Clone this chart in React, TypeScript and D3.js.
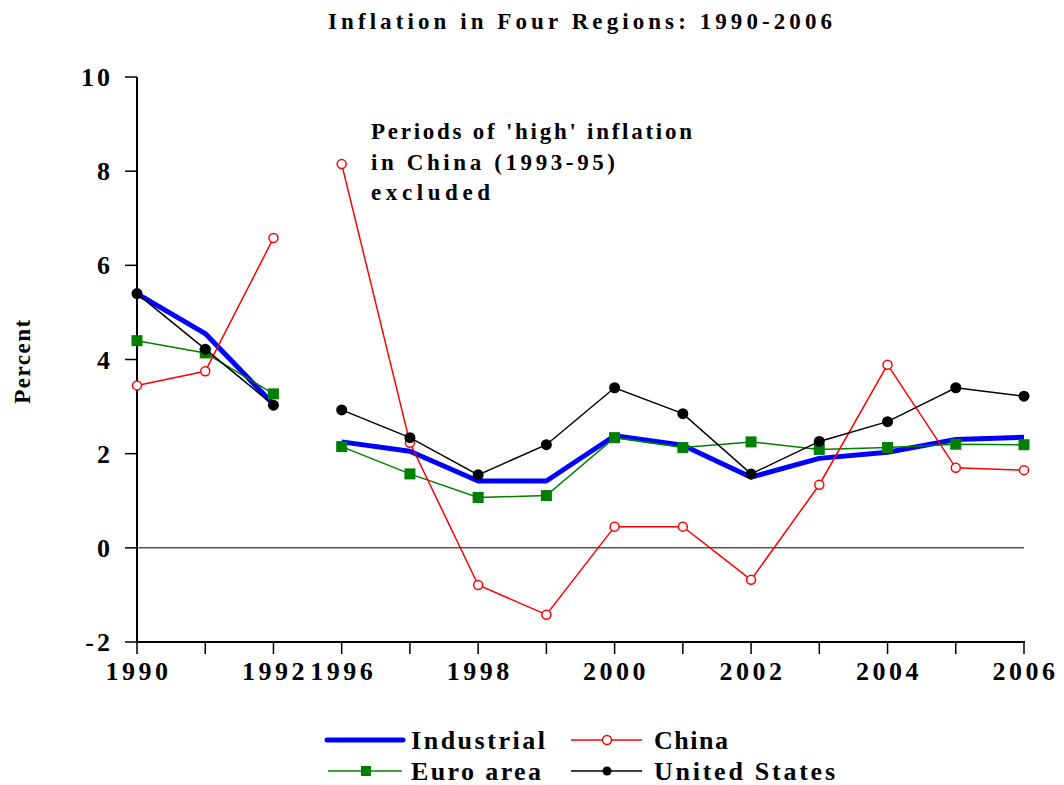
import React from "react";
import * as d3 from "d3";

// categories on the x axis (1993-95 left out)
const years = ["1990", "1991", "1992", "1996", "1997", "1998", "1999", "2000", "2001", "2002", "2003", "2004", "2005", "2006"];
const labeledYears = ["1990", "1992", "1996", "1998", "2000", "2002", "2004", "2006"];
const yTicks = [-2, 0, 2, 4, 6, 8, 10];

const industrial = [5.4, 4.55, 3.05, 2.25, 2.05, 1.42, 1.42, 2.38, 2.18, 1.5, 1.9, 2.03, 2.3, 2.35];
const china = [3.45, 3.75, 6.58, 8.15, 2.23, -0.79, -1.42, 0.45, 0.45, -0.68, 1.34, 3.89, 1.7, 1.65];
const euroArea = [4.4, 4.14, 3.27, 2.15, 1.57, 1.07, 1.11, 2.34, 2.13, 2.25, 2.09, 2.13, 2.2, 2.19];
const unitedStates = [5.4, 4.22, 3.03, 2.93, 2.34, 1.55, 2.19, 3.4, 2.85, 1.57, 2.26, 2.68, 3.4, 3.22];

const W = 1064;
const H = 785;
const font = "'Liberation Serif', 'Times New Roman', serif";

const App = () => {
  const x = d3.scalePoint<string>().domain(years).range([137, 1024]);
  const y = d3.scaleLinear().domain([-2, 10]).range([642, 77]);

  const line = d3
    .line<[string, number]>()
    .x((d) => x(d[0]) as number)
    .y((d) => y(d[1]));

  // lines break between 1992 and 1996
  const segments = (vals: number[]) => {
    const pts = years.map((yr, i) => [yr, vals[i]] as [string, number]);
    return [pts.slice(0, 3), pts.slice(3)];
  };

  const txt = {
    fontFamily: font,
    fontWeight: "bold" as const,
    fill: "#000",
  };

  return (
    <svg width={W} height={H} style={{ position: "absolute", left: 0, top: 0, background: "#fff" }}>
      {/* title */}
      <text x={328} y={29} fontSize={23} textLength={504} lengthAdjust="spacing" {...txt}>
        Inflation in Four Regions: 1990-2006
      </text>

      {/* zero line */}
      <line x1={137} x2={1024} y1={y(0)} y2={y(0)} stroke="#000" strokeWidth={1} />

      {/* y axis */}
      <line x1={137} x2={137} y1={y(10)} y2={y(-2)} stroke="#000" strokeWidth={2} />
      {yTicks.map((t) => (
        <g key={t}>
          <line x1={125} x2={137} y1={y(t)} y2={y(t)} stroke="#000" strokeWidth={1.5} />
          <text x={113} y={y(t) + 9} fontSize={26} textAnchor="end" letterSpacing={3} {...txt}>
            {t}
          </text>
        </g>
      ))}
      <text
        transform={`translate(30, 361) rotate(-90)`}
        fontSize={23}
        textAnchor="middle"
        letterSpacing={1.5}
        {...txt}
      >
        Percent
      </text>

      {/* x axis */}
      <line x1={136} x2={1025} y1={y(-2)} y2={y(-2)} stroke="#000" strokeWidth={2} />
      {years.map((yr) => (
        <line key={yr} x1={x(yr)} x2={x(yr)} y1={643} y2={654} stroke="#000" strokeWidth={1.5} />
      ))}
      {labeledYears.map((yr) => (
        <text key={yr} x={(x(yr) as number) + 1.5} y={680} fontSize={26} textAnchor="middle" letterSpacing={3.5} {...txt}>
          {yr}
        </text>
      ))}

      {/* Industrial */}
      {segments(industrial).map((s, i) => (
        <path key={i} d={line(s) || ""} fill="none" stroke="#0000FF" strokeWidth={5} strokeLinejoin="round" />
      ))}

      {/* Euro area */}
      {segments(euroArea).map((s, i) => (
        <path key={i} d={line(s) || ""} fill="none" stroke="#008000" strokeWidth={1.5} />
      ))}
      {euroArea.map((v, i) => (
        <rect key={i} x={(x(years[i]) as number) - 5.5} y={y(v) - 5.5} width={11} height={11} fill="#008000" />
      ))}

      {/* China */}
      {segments(china).map((s, i) => (
        <path key={i} d={line(s) || ""} fill="none" stroke="#FF0000" strokeWidth={1.5} />
      ))}
      {china.map((v, i) => (
        <circle key={i} cx={x(years[i])} cy={y(v)} r={4.5} fill="#fff" stroke="#FF0000" strokeWidth={1.5} />
      ))}

      {/* United States */}
      {segments(unitedStates).map((s, i) => (
        <path key={i} d={line(s) || ""} fill="none" stroke="#000" strokeWidth={1.5} />
      ))}
      {unitedStates.map((v, i) => (
        <circle key={i} cx={x(years[i])} cy={y(v)} r={5.5} fill="#000" />
      ))}

      {/* annotation */}
      <text fontSize={23} {...txt}>
        <tspan x={371} y={139} textLength={321} lengthAdjust="spacing">Periods of 'high' inflation</tspan>
        <tspan x={371} y={170} textLength={244} lengthAdjust="spacing">in China (1993-95)</tspan>
        <tspan x={371} y={200} textLength={119} lengthAdjust="spacing">excluded</tspan>
      </text>

      {/* legend */}
      <g>
        <line x1={327} x2={403} y1={740} y2={740} stroke="#0000FF" strokeWidth={5} strokeLinecap="round" />
        <text x={411} y={749} fontSize={26} textLength={134} lengthAdjust="spacing" {...txt}>Industrial</text>

        <line x1={571} x2={642} y1={740} y2={740} stroke="#FF0000" strokeWidth={1.5} />
        <circle cx={607} cy={740} r={4.5} fill="#fff" stroke="#FF0000" strokeWidth={1.5} />
        <text x={654} y={749} fontSize={26} textLength={74} lengthAdjust="spacing" {...txt}>China</text>

        <line x1={328} x2={402} y1={771} y2={771} stroke="#008000" strokeWidth={1.5} />
        <rect x={361} y={766} width={10} height={10} fill="#008000" />
        <text x={411} y={780} fontSize={26} textLength={130} lengthAdjust="spacing" {...txt}>Euro area</text>

        <line x1={571} x2={642} y1={771} y2={771} stroke="#000" strokeWidth={1.5} />
        <circle cx={607} cy={771} r={4.5} fill="#000" />
        <text x={654} y={780} fontSize={26} textLength={181} lengthAdjust="spacing" {...txt}>United States</text>
      </g>
    </svg>
  );
};

export default App;
